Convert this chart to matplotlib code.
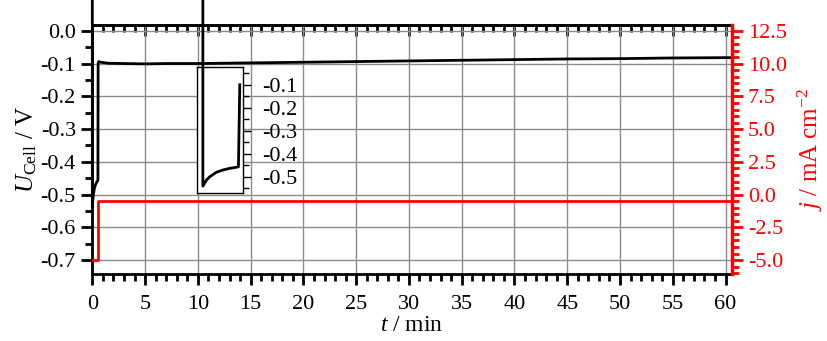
import matplotlib
matplotlib.use("Agg")
import matplotlib.pyplot as plt
from matplotlib.ticker import MultipleLocator, FormatStrFormatter
import numpy as np

plt.rcParams["font.family"] = "Liberation Serif"
plt.rcParams["mathtext.fontset"] = "custom"
plt.rcParams["mathtext.rm"] = "Liberation Serif"
plt.rcParams["mathtext.it"] = "Liberation Serif:italic"
plt.rcParams["axes.unicode_minus"] = False

# early transient (min, V)
t_early = [0.0, 0.0, 0.02, 0.05, 0.1, 0.15, 0.2, 0.3, 0.4, 0.5, 0.53, 0.55]
u_early = [0.6, -0.54, -0.53, -0.515, -0.50, -0.49, -0.48, -0.47, -0.463, -0.458, -0.456, -0.10]

# rest of the run
t_late = [0.6, 0.8, 1.5, 3, 5, 7, 10, 15, 20, 25, 30, 35, 40, 45, 50, 55, 60, 60.6]
u_late = [-0.094, -0.096, -0.099, -0.1, -0.101, -0.1, -0.1, -0.098, -0.096, -0.094,
          -0.092, -0.09, -0.088, -0.086, -0.085, -0.083, -0.082, -0.082]

# current density step (min, mA cm-2)
t_j = [0.0, 0.54, 0.54, 60.6]
j_vals = [-5.0, -5.0, -0.5, -0.5]

fig = plt.figure(figsize=(8.27, 3.41), dpi=100)
ax = fig.add_axes([0.111, 0.196, 0.774, 0.731])

ax.plot(t_early + t_late, u_early + u_late, color="black", lw=2, clip_on=False, zorder=3)
ax.set_xlim(-0.05, 60.6)
ax.set_ylim(-0.743, 0.018)
ax.xaxis.set_major_locator(MultipleLocator(5))
ax.xaxis.set_minor_locator(MultipleLocator(1))
ax.yaxis.set_major_locator(MultipleLocator(0.1))
ax.yaxis.set_minor_locator(MultipleLocator(0.05))
ax.yaxis.set_major_formatter(FormatStrFormatter("%.1f"))
ax.grid(True, which="major", color="#8c8c8c", lw=1)
ax.set_axisbelow(True)
ax.tick_params(axis="both", which="major", direction="out", length=8, width=2, labelsize=16)
ax.tick_params(axis="both", which="minor", direction="out", length=5, width=2)
ax.tick_params(axis="x", pad=7)
for s in ["left", "bottom", "top"]:
    ax.spines[s].set_linewidth(2)
ax.set_xlabel(r"$t$ / min", fontsize=17, labelpad=1)
ax.set_ylabel(r"$U_{\mathrm{Cell}}$ / V", fontsize=18, labelpad=1)

top = ax.secondary_xaxis("top")
top.xaxis.set_major_locator(MultipleLocator(5))
top.xaxis.set_minor_locator(MultipleLocator(1))
top.tick_params(which="major", direction="in", length=8, width=2, labeltop=False)
top.tick_params(which="minor", direction="in", length=5, width=2)
top.spines["top"].set_linewidth(2)

ax2 = ax.twinx()
ax2.plot(t_j, j_vals, color="red", lw=2)
ax2.set_ylim(-6.07, 12.96)
ax2.yaxis.set_major_locator(MultipleLocator(2.5))
ax2.yaxis.set_minor_locator(MultipleLocator(0.5))
ax2.yaxis.set_major_formatter(FormatStrFormatter("%.1f"))
ax2.tick_params(axis="y", which="major", direction="out", length=8, width=2,
                colors="red", labelsize=16)
ax2.tick_params(axis="y", which="minor", direction="out", length=5, width=2, colors="red")
ax2.spines["right"].set_color("red")
ax2.spines["right"].set_linewidth(2.5)
for s in ["left", "bottom", "top"]:
    ax2.spines[s].set_visible(False)
ax2.set_ylabel(r"$j$ / mA cm$^{-2}$", fontsize=18, color="red", labelpad=6)

# inset
ins = fig.add_axes([0.238, 0.434, 0.056, 0.370])
ins.set_zorder(5)
ins.plot(t_early, u_early, color="black", lw=2, clip_on=False)
ins.set_xlim(-0.09, 0.6)
ins.set_ylim(-0.57, -0.022)
ins.set_xticks([])
ins.yaxis.tick_right()
ins.yaxis.set_major_locator(MultipleLocator(0.1))
ins.yaxis.set_minor_locator(MultipleLocator(0.05))
ins.yaxis.set_major_formatter(FormatStrFormatter("%.1f"))
ins.tick_params(axis="y", which="major", direction="out", length=6, width=1, labelsize=16, pad=8)
ins.tick_params(axis="y", which="minor", direction="out", length=4, width=1)
for s in ins.spines.values():
    s.set_linewidth(1)

fig.savefig("out.png", dpi=100)
